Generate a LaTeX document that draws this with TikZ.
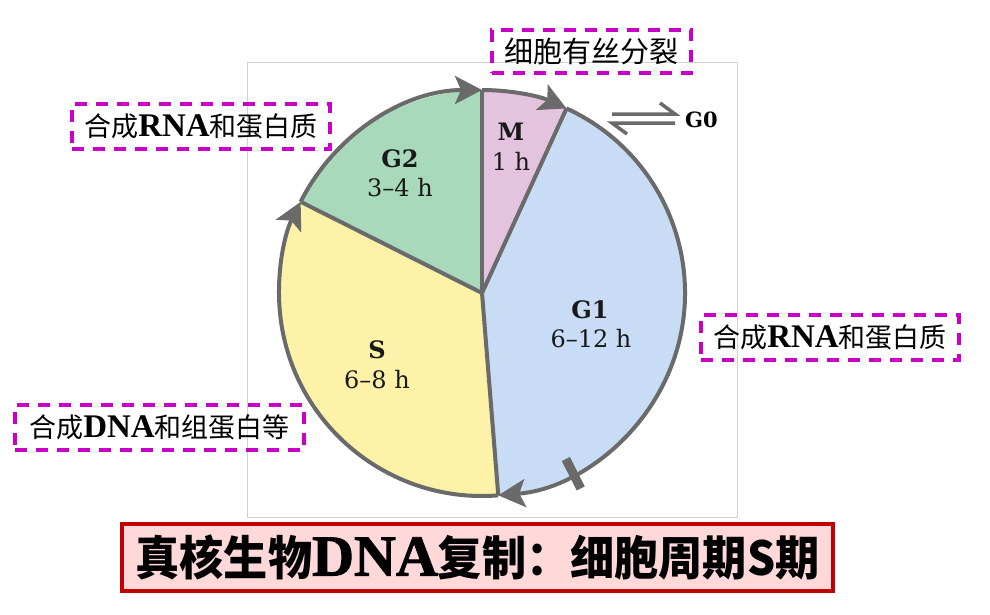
\documentclass[tikz,border=0pt]{standalone}
\usepackage{fontspec}
\newfontfamily\cjk{Noto Sans CJK SC}
\newfontfamily\cjkT{Noto Sans CJK SC}[FakeStretch=0.94]
\newfontfamily\lser{Liberation Serif}
\newfontfamily\lserT{Liberation Serif}[FakeBold=1.6]
\newfontfamily\dser{DejaVu Serif}[Ligatures=TeX]
\usetikzlibrary{arrows.meta}
\definecolor{cM}{HTML}{E3C3DE}
\definecolor{cGtwo}{HTML}{A9D9BB}
\definecolor{cS}{HTML}{FDF2A7}
\definecolor{cGone}{HTML}{C8DCF5}
\definecolor{edge}{HTML}{6A6A6A}
\definecolor{mag}{HTML}{C800C8}
\definecolor{tred}{HTML}{C00000}
\definecolor{tpink}{HTML}{FFD9D9}
\begin{document}
\begin{tikzpicture}[x=1pt,y=-1pt,
  phase/.style={font=\dser\fontsize{24}{26}\selectfont\bfseries, text=black!90, anchor=base, inner sep=0pt},
  dur/.style={font=\dser\fontsize{24}{26}\selectfont, text=black!90, anchor=base, inner sep=0pt},
  note/.style={draw=mag, line width=4pt, dash pattern=on 12pt off 9pt, font=\cjk\fontsize{27}{29}\selectfont, inner sep=0pt, minimum height=45pt},
  rim/.style={draw=edge, line width=4pt, line join=round},
  tipx/.style={-{Stealth[length=27pt,width=28pt,inset=6pt]}}
]
\useasboundingbox (0,0) rectangle (990,614);
\fill[white] (0,0) rectangle (990,614);
\draw[black!18, line width=1pt] (247,62) rectangle (737,517);

\coordinate (C) at (482,293);
\def\R{203}
% sectors
\fill[cM] (C) -- ([shift={(-90:\R)}]C) arc[start angle=-90,end angle=-65.4,radius=\R] -- cycle;
\fill[cGone] (C) -- ([shift={(-65.4:\R)}]C) arc[start angle=-65.4,end angle=85.4,radius=\R] -- cycle;
\fill[cS] (C) -- ([shift={(85.4:\R)}]C) arc[start angle=85.4,end angle=206.7,radius=\R] -- cycle;
\fill[cGtwo] (C) -- ([shift={(206.7:\R)}]C) arc[start angle=206.7,end angle=270,radius=\R] -- cycle;
% radial lines
\draw[rim] (C) -- ([shift={(-90:\R)}]C);
\draw[rim] (C) -- ([shift={(-65.4:\R)}]C);
\draw[rim] (C) -- ([shift={(85.4:\R)}]C);
\draw[rim] (C) -- ([shift={(206.7:\R)}]C);
% rim arcs with arrows
\draw[rim,tipx] ([shift={(-90:\R)}]C) arc[start angle=-90,end angle=-65.4,radius=\R];
\draw[rim,tipx] ([shift={(-65.4:\R)}]C) arc[start angle=-65.4,end angle=85.4,radius=\R];
\draw[rim,tipx] ([shift={(85.4:\R)}]C) arc[start angle=85.4,end angle=206.7,radius=\R];
\draw[rim,tipx] ([shift={(206.7:\R)}]C) arc[start angle=206.7,end angle=270,radius=\R];
% tick
\draw[edge, line width=9pt] ([shift={(63.2:186)}]C) -- ([shift={(63.2:219)}]C);

% phase labels
\node[phase] (lM) at (511,140) {M};
\node[dur] (dM) at (511,170) {1 h};
\node[phase] (lG2) at (400,167) {G2};
\node[dur] (dG2) at (400,196) {3--4 h};
\node[phase] (lG1) at (590,318) {G1};
\node[dur] (dG1) at (591,347) {6--12 h};
\node[phase] (lS) at (377,358) {S};
\node[dur] (dS) at (377,388) {6--8 h};

% G0 harpoons
\coordinate (ha) at (660,103);
\coordinate (hb) at (675,114);
\coordinate (hc) at (612,114);
\coordinate (hd) at (675,123);
\coordinate (he) at (612,123);
\coordinate (hf) at (627,134);
\draw[edge, line width=3.5pt, line join=miter] (ha) -- (hb) -- (hc);
\draw[edge, line width=3.5pt, line join=miter] (hd) -- (he) -- (hf);
\node[font=\dser\fontsize{21}{23}\selectfont\bfseries, anchor=base west, inner sep=0pt] (g0) at (685,127) {G0};

% dashed notes
\node[note, minimum width=199pt, minimum height=43pt, font=\cjk\fontsize{29}{31}\selectfont] (n1) at (591.5,51.5) {细胞有丝分裂};
\node[note, minimum width=258pt] (n2) at (201,126.5) {合成{\lser\bfseries\fontsize{33}{35}\selectfont RNA}和蛋白质};
\node[note, minimum width=258pt] (n3) at (830,337.5) {合成{\lser\bfseries\fontsize{33}{35}\selectfont RNA}和蛋白质};
\node[note, minimum width=289pt] (n4) at (159.5,427) {合成{\lser\bfseries\fontsize{33}{35}\selectfont DNA}和组蛋白等};

% title
\node[draw=tred, fill=tpink, line width=4pt, minimum width=711pt, minimum height=67pt, inner sep=0pt,
  font=\cjkT\bfseries\fontsize{47}{49}\selectfont] (title) at (477.5,557.5) {真核生物{\lserT\bfseries\fontsize{58}{60}\selectfont DNA}复制：细胞周期S期};
\end{tikzpicture}
\end{document}
